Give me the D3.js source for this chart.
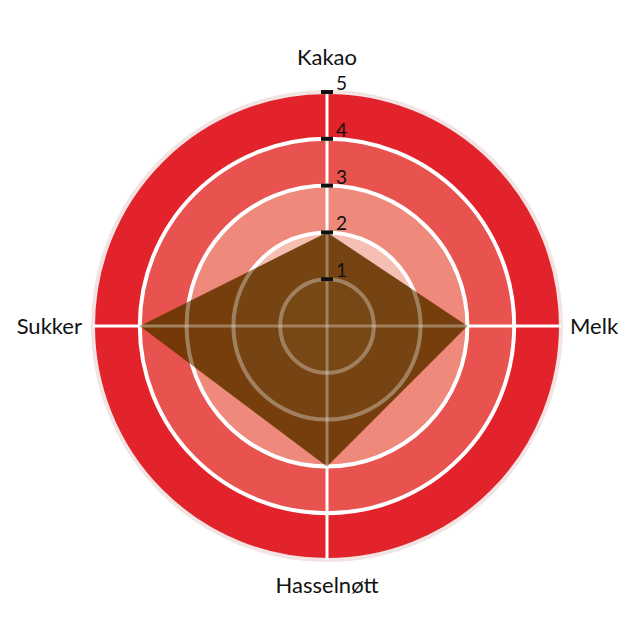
<!DOCTYPE html>
<html>
<head>
<meta charset="utf-8">
<script src="https://cdn.jsdelivr.net/npm/d3@7"></script>
<style>
  body { margin: 0; background: #fff; }
  text { font-family: Lato, "Open Sans", sans-serif; }
</style>
</head>
<body>
<div id="chart-area"></div>
<script>
var width = 640;
var height = 639;
var cx = 327;
var cy = 326;

// data
var categories = ["Kakao", "Melk", "Hasselnøtt", "Sukker"];
var values = [2, 3, 3, 4];
var levels = [1, 2, 3, 4, 5];
var ringColors = ["#fbe3dc", "#f5bfb3", "#ef897b", "#e8524f", "#e3232b"];

var svg = d3.select("#chart-area").append("svg")
    .attr("width", width)
    .attr("height", height);

var g = svg.append("g").attr("transform", "translate(" + cx + "," + cy + ")");

var r = d3.scaleLinear().domain([0, 5]).range([0, 234]);
var angle = d3.scaleLinear().domain([0, categories.length]).range([0, 2 * Math.PI]);

// ring fills, biggest first
g.selectAll("circle.ring").data(levels.slice().reverse()).enter().append("circle")
    .attr("class", "ring")
    .attr("r", d => r(d))
    .attr("fill", d => ringColors[d - 1]);

function drawGrid(sel, color, op) {
    sel.selectAll("circle.grid").data(levels).enter().append("circle")
        .attr("class", "grid")
        .attr("r", d => r(d))
        .attr("fill", "none")
        .attr("stroke", d => d === 5 ? "#f3e4e4" : color)
        .attr("stroke-opacity", op)
        .attr("stroke-width", 4);
    sel.selectAll("line.axis").data(categories).enter().append("line")
        .attr("class", "axis")
        .attr("x1", 0).attr("y1", 0)
        .attr("x2", (d, i) => r(5) * Math.sin(angle(i)))
        .attr("y2", (d, i) => -r(5) * Math.cos(angle(i)))
        .attr("stroke", color)
        .attr("stroke-opacity", op)
        .attr("stroke-width", 3);
}

drawGrid(g.append("g"), "#ffffff", 1);

var radial = d3.lineRadial()
    .angle((d, i) => angle(i))
    .radius(d => r(d))
    .curve(d3.curveLinearClosed);

svg.append("clipPath").attr("id", "shape")
    .append("path")
    .attr("transform", "translate(" + cx + "," + cy + ")")
    .attr("d", radial(values));

g.append("path")
    .attr("d", radial(values))
    .attr("fill", "#683600")
    .attr("fill-opacity", 0.9);

// lighter lines seen through the shape
var over = svg.append("g").attr("clip-path", "url(#shape)")
    .append("g").attr("transform", "translate(" + cx + "," + cy + ")");
drawGrid(over, "#ffffff", 0.3);

var fg = svg.append("g").attr("transform", "translate(" + cx + "," + cy + ")");

// tick marks on the Kakao axis
fg.selectAll("rect.tick").data(levels).enter().append("rect")
    .attr("class", "tick")
    .attr("x", -6)
    .attr("y", d => -r(d) - 2)
    .attr("width", 12)
    .attr("height", 4)
    .attr("fill", "#111");

fg.selectAll("text.tick").data(levels).enter().append("text")
    .attr("class", "tick")
    .attr("x", 9)
    .attr("y", d => -r(d) - 2)
    .attr("font-size", 19)
    .attr("fill", "#111")
    .text(d => d);

// category labels
var labelPos = [
    { dx: 0, dy: -r(5) - 27, anchor: "middle" },
    { dx: r(5) + 9, dy: 8, anchor: "start" },
    { dx: 0, dy: r(5) + 33, anchor: "middle" },
    { dx: -r(5) - 11, dy: 8, anchor: "end" }
];

fg.selectAll("text.cat").data(categories).enter().append("text")
    .attr("class", "cat")
    .attr("x", (d, i) => labelPos[i].dx)
    .attr("y", (d, i) => labelPos[i].dy)
    .attr("text-anchor", (d, i) => labelPos[i].anchor)
    .attr("font-size", 22)
    .attr("fill", "#111")
    .text(d => d);
</script>
</body>
</html>
